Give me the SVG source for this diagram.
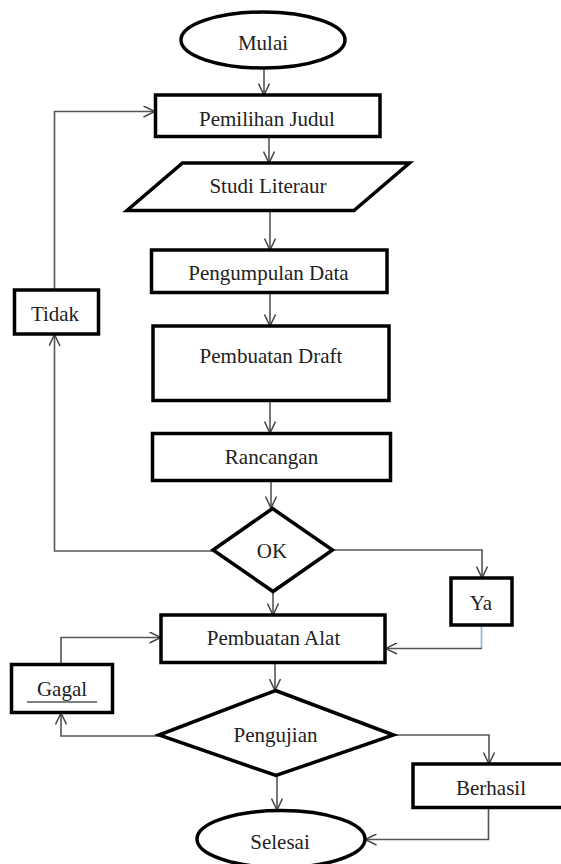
<svg xmlns="http://www.w3.org/2000/svg" width="561" height="864" viewBox="0 0 561 864">
<style>
.box{fill:#fff;stroke:#000;stroke-width:3.5;stroke-linejoin:miter}
.t{font-family:"Liberation Serif","Times New Roman",serif;font-size:21px;fill:#222;text-anchor:middle}
.c{fill:none;stroke:#555;stroke-width:1.6}
</style>
<defs>
<marker id="arr" viewBox="0 0 12 12" refX="12" refY="6" markerWidth="12" markerHeight="12" orient="auto" markerUnits="userSpaceOnUse">
<path d="M0.5,0.5 L12,6 L0.5,11.5" fill="none" stroke="#444" stroke-width="1.5"/>
</marker>
</defs>
<rect width="561" height="864" fill="#fff"/>
<g id="connectors">
<line class="c" x1="264" y1="68" x2="264" y2="95" marker-end="url(#arr)"/>
<polyline class="c" points="54.5,290 54.5,111.5 155,111.5" marker-end="url(#arr)"/>
<line class="c" x1="269" y1="137" x2="269" y2="163" marker-end="url(#arr)"/>
<line class="c" x1="270" y1="211" x2="270" y2="250" marker-end="url(#arr)"/>
<line class="c" x1="270" y1="292" x2="270" y2="326" marker-end="url(#arr)"/>
<line class="c" x1="270" y1="401" x2="270" y2="433" marker-end="url(#arr)"/>
<line class="c" x1="271" y1="481" x2="271" y2="508" marker-end="url(#arr)"/>
<polyline class="c" points="213,551 54.5,551 54.5,334.5" marker-end="url(#arr)"/>
<polyline class="c" points="333,550 482,550 482,578" marker-end="url(#arr)"/>
<line class="c" x1="273" y1="592" x2="273" y2="615" marker-end="url(#arr)"/>
<line x1="481.5" y1="625" x2="481.5" y2="648.5" stroke="#8db3e2" stroke-width="1.6"/>
<line class="c" x1="482" y1="648.5" x2="385.5" y2="648.5" marker-end="url(#arr)"/>
<polyline class="c" points="61,664 61,637.5 161,637.5" marker-end="url(#arr)"/>
<line class="c" x1="275" y1="663" x2="275" y2="690.5" marker-end="url(#arr)"/>
<polyline class="c" points="159,736 61,736 61,713" marker-end="url(#arr)"/>
<polyline class="c" points="394,735 489,735 489,764" marker-end="url(#arr)"/>
<line class="c" x1="277" y1="775.5" x2="277" y2="810" marker-end="url(#arr)"/>
<polyline class="c" points="488.5,808 488.5,839.5 365,839.5" marker-end="url(#arr)"/>
</g>
<g id="mulai">
<ellipse class="box" cx="263" cy="40" rx="82" ry="28"/>
<text class="t" x="263" y="50">Mulai</text>
</g>
<g id="pemilihan-judul">
<rect class="box" x="155.5" y="95" width="224.5" height="41.5"/>
<text class="t" x="267" y="126">Pemilihan Judul</text>
</g>
<g id="studi-literaur">
<polygon class="box" points="182.5,163 409.5,163 354,210.5 127,210.5"/>
<text class="t" x="268" y="193">Studi Literaur</text>
</g>
<g id="pengumpulan-data">
<rect class="box" x="151.5" y="250" width="235.5" height="42.5"/>
<text class="t" x="268.5" y="280">Pengumpulan Data</text>
</g>
<g id="pembuatan-draft">
<rect class="box" x="153" y="326" width="236" height="74.5"/>
<text class="t" x="271" y="363">Pembuatan Draft</text>
</g>
<g id="tidak">
<rect class="box" x="14.5" y="290" width="84" height="44"/>
<text class="t" x="55" y="321">Tidak</text>
</g>
<g id="rancangan">
<rect class="box" x="152.5" y="433.5" width="238" height="47"/>
<text class="t" x="271.5" y="464">Rancangan</text>
</g>
<g id="ok">
<polygon class="box" points="272.5,508.5 332.5,550 273,591.5 213,550"/>
<text class="t" x="272" y="558">OK</text>
</g>
<g id="ya">
<rect class="box" x="451" y="578" width="61" height="47"/>
<text class="t" x="481" y="610">Ya</text>
</g>
<g id="pembuatan-alat">
<rect class="box" x="161" y="615" width="224" height="47.5"/>
<text class="t" x="273.5" y="645">Pembuatan Alat</text>
</g>
<g id="gagal">
<rect class="box" x="11.5" y="664.5" width="101" height="48"/>
<text class="t" x="62" y="696">Gagal</text>
<line x1="27" y1="702" x2="97" y2="702" stroke="#555" stroke-width="1.5"/>
</g>
<g id="pengujian">
<polygon class="box" points="275.5,690.5 393.5,735 276,775.5 159,735"/>
<text class="t" x="275.5" y="742">Pengujian</text>
</g>
<g id="berhasil">
<rect class="box" x="413" y="764" width="160" height="43.5"/>
<text class="t" x="491" y="795">Berhasil</text>
</g>
<g id="selesai">
<ellipse class="box" cx="281" cy="839" rx="84" ry="28.5"/>
<text class="t" x="280" y="849">Selesai</text>
</g>
</svg>
